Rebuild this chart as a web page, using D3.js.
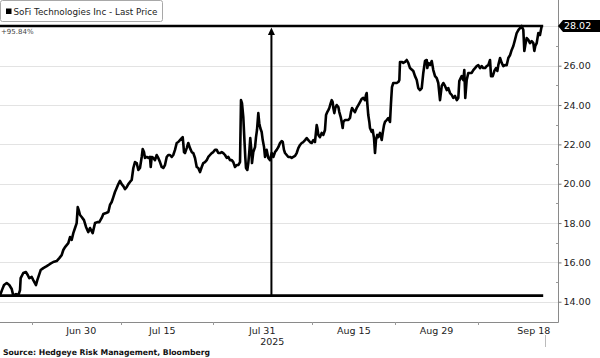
<!DOCTYPE html>
<html>
<head>
<meta charset="utf-8">
<script src="https://cdn.jsdelivr.net/npm/d3@7"></script>
<style>
  html, body { margin: 0; padding: 0; background: #fff; }
  svg { display: block; }
</style>
</head>
<body>
<svg id="chart" width="600" height="358"></svg>
<script>
// ---------------- DATA ----------------
const seriesName = "SoFi Technologies Inc - Last Price";
const sourceText = "Source: Hedgeye Risk Management, Bloomberg";
// time in trading days since the start of the window (mid-June 2025)
const tradingDay = [
  0,0.24,0.49,0.82,1.13,1.43,1.62,1.95,2.23,2.44,2.52,2.84,3.17,3.38,3.57,3.87,4.06,4.39,4.55,4.96,
  5.28,5.7,6.1,6.5,6.91,7.23,7.52,7.72,7.93,8.13,8.33,8.54,8.74,8.94,9.15,9.35,9.48,9.6,9.76,9.96,
  10.24,10.49,10.77,10.98,11.3,11.59,11.87,12.11,12.4,12.6,12.93,13.21,13.41,13.62,13.82,14.02,14.23,
  14.43,14.63,14.84,15.04,15.24,15.45,15.65,15.85,
  16.06,16.26,16.46,16.67,16.87,17.07,17.28,17.4,17.56,17.68,17.89,18.09,18.29,18.38,18.5,18.7,18.9,
  19.11,19.3,19.51,19.72,19.91,20.12,20.33,20.52,20.73,20.94,21.13,21.34,21.55,21.74,21.95,22.16,22.28,
  22.35,22.44,22.56,22.77,22.96,23.17,23.38,23.57,23.78,23.99,24.18,24.39,24.6,24.79,25.0,25.21,25.4,
  25.61,25.82,26.01,26.22,26.43,26.62,26.83,27.04,27.23,27.44,27.65,27.84,28.05,28.26,28.45,28.66,28.87,
  29.06,29.27,29.39,29.51,29.67,29.79,29.91,30.0,30.16,30.28,30.4,30.52,30.65,30.73,30.89,31.1,31.22,
  31.34,31.5,31.62,31.74,31.91,32.04,32.2,32.32,32.52,32.72,32.93,
  33.13,33.33,33.54,33.74,33.94,34.15,34.35,34.48,34.63,34.76,34.96,35.16,35.37,35.57,35.77,35.98,36.18,
  36.38,36.59,36.79,36.99,37.2,37.4,37.6,37.8,38.01,38.21,38.41,38.62,38.7,38.82,39.02,39.23,39.43,39.63,
  39.76,39.91,40.04,40.16,40.33,40.45,40.57,40.65,40.77,40.89,41.06,41.26,41.38,41.55,41.67,41.79,41.87,
  42.07,42.28,42.48,42.68,42.8,42.93,43.09,43.29,43.5,43.7,43.9,44.11,44.3,44.51,44.63,44.72,44.79,44.91,
  45.04,45.12,45.33,45.45,45.61,45.73,45.85,46.01,46.13,46.34,46.55,46.67,46.83,46.95,47.16,47.35,47.56,
  47.68,47.8,47.96,48.17,48.38,48.57,48.7,48.78,48.99,49.18,49.39,49.6,49.79,
  50.0,50.4,50.61,50.82,51.01,51.22,51.43,51.62,51.83,52.04,52.11,52.23,52.44,52.65,52.84,53.05,53.26,
  53.45,53.66,53.87,54.06,54.27,54.48,54.67,54.88,55.09,55.28,55.49,55.7,55.89,56.01,56.18,56.3,56.5,
  56.62,56.74,56.91,57.11,57.32,57.52,57.72,57.93,58.13,58.33,58.54,58.74,58.94,59.15,59.35,59.55,59.76,
  59.88,60.09,60.28,60.49,60.65,60.77,60.98,61.18,61.38,61.59,61.79,61.99,62.2,62.4,62.6,62.8,63.01,
  63.21,63.41,63.62,63.82,63.94,64.06,64.23,64.43,64.63,64.84,65.04,65.16,65.28,65.45,65.65,65.85,66.06
];
const price = [
  14.31,14.59,14.85,14.95,14.85,14.65,14.31,14.39,14.31,14.59,15.2,15.46,15.51,15.36,15.2,15.26,15.1,14.85,15.1,15.61,
  15.71,15.81,15.92,16.02,16.07,16.22,16.37,16.63,16.78,16.88,16.98,17.29,17.14,17.49,17.75,18.0,18.81,18.66,18.41,18.31,
  18.15,17.8,17.54,17.75,17.49,18.0,18.05,18.05,18.26,18.46,18.51,18.56,18.92,19.07,19.32,19.58,19.78,
  19.98,20.14,19.98,19.88,19.73,19.83,19.98,20.09,
  20.19,20.8,21.1,21.05,20.7,20.8,21.36,21.76,21.61,21.31,21.36,21.31,21.36,20.85,21.36,21.31,21.2,
  21.46,21.31,21.1,20.85,20.8,20.95,21.36,21.46,21.46,21.36,21.46,21.72,22.07,22.12,22.22,22.32,22.37,
  22.07,21.61,21.56,21.81,22.07,21.81,21.61,21.56,21.31,20.85,20.8,20.59,20.85,21.05,21.1,21.2,21.36,
  21.46,21.56,21.61,21.72,21.72,21.56,21.56,21.61,21.56,21.46,21.31,21.36,21.2,21.2,21.1,20.85,20.95,
  20.95,21.1,24.25,24.1,23.39,22.37,21.36,20.8,20.7,21.05,21.61,22.32,21.72,21.05,21.61,21.86,22.37,
  22.73,23.59,23.08,22.83,22.63,22.22,21.86,21.36,21.72,21.31,21.2,
  21.56,21.36,21.61,21.72,21.86,22.07,22.17,22.12,21.72,21.56,21.46,21.36,21.36,21.31,21.36,21.41,21.56,
  21.81,21.97,22.07,22.12,22.22,22.32,22.22,22.12,22.07,22.22,22.12,22.98,22.83,22.48,22.37,22.58,22.48,22.73,
  23.49,23.64,23.74,23.85,24.1,24.25,24.15,23.85,23.59,23.85,24.0,23.9,23.64,23.39,23.14,22.83,23.14,
  23.24,23.24,23.24,23.34,23.64,23.85,23.75,23.64,23.85,24.0,24.15,24.31,24.36,24.25,24.51,24.61,24.1,23.49,
  23.14,22.83,22.63,22.73,22.32,21.56,22.22,22.48,22.37,22.58,22.22,22.58,22.98,23.14,23.24,23.34,23.14,
  24.1,24.91,25.12,25.12,25.12,25.17,25.27,26.19,26.19,26.14,26.19,26.29,26.14,
  25.88,25.73,25.47,25.27,24.86,24.76,24.86,25.63,26.24,26.29,25.88,26.14,26.04,26.24,25.78,25.47,25.37,
  25.12,24.25,24.97,25.12,24.97,24.76,24.86,24.61,24.51,24.36,24.46,24.25,24.36,25.22,25.37,25.47,25.27,
  25.78,24.36,25.27,25.63,25.63,25.63,25.78,25.88,25.98,26.03,25.88,25.98,25.88,25.88,25.98,26.03,26.29,
  25.47,25.47,25.73,25.88,25.73,26.03,26.39,26.14,25.98,26.03,26.03,26.39,26.54,26.8,27.0,27.31,27.66,
  27.81,27.91,28.02,27.81,26.75,27.05,27.41,27.31,27.15,27.25,27.15,26.75,27.0,27.15,27.66,27.56,28.02
];
const lastPrice = 28.02;
const lowPrice = 14.31;
const pctChangeLabel = "+95.84%";
const markerDay = 33.1;          // the vertical arrow (start of August)
const yTicks = [14, 16, 18, 20, 22, 24, 26];
const yMinorTicks = [15, 17, 19, 21, 23, 25, 27];
const xTickDays = [9.84, 19.72, 31.91, 43.09, 53.17, 65.04];
const xTickLabels = ["Jun 30", "Jul 15", "Jul 31", "Aug 15", "Aug 29", "Sep 18"];
const xMinorDays = [3.87, 14.8, 25.98, 38.01, 48.17, 58.29];
const yearLabel = "2025";
const yearDay = 33.2;

// ---------------- CHART ----------------
const svg = d3.select("#chart");
const plotRight = 558, plotBottom = 322;
const x = d3.scaleLinear().domain([0, 66.06]).range([0, 541.7]);
const y = d3.scaleLinear().domain([12.97, 29.34]).range([plotBottom, 0]);
const FONT = "'DejaVu Sans', Verdana, sans-serif";

svg.append("rect").attr("width", 600).attr("height", 358).attr("fill", "#fff");

// gridlines
svg.append("g").selectAll("line").data(yTicks.concat([28])).join("line")
  .attr("x1", 0).attr("x2", plotRight)
  .attr("y1", d => Math.round(y(d)) + 0.5).attr("y2", d => Math.round(y(d)) + 0.5)
  .attr("stroke", "#e3e3e3").attr("stroke-width", 1);

// axes lines
svg.append("line").attr("x1", 0).attr("x2", plotRight + 0.5)
  .attr("y1", plotBottom + 0.5).attr("y2", plotBottom + 0.5).attr("stroke", "#8a8a8a");
svg.append("line").attr("x1", plotRight + 0.5).attr("x2", plotRight + 0.5)
  .attr("y1", 0).attr("y2", plotBottom + 0.5).attr("stroke", "#8a8a8a");

// y axis (right)
const yAxis = d3.axisRight(y).tickValues(yTicks).tickFormat(d3.format(".2f")).tickSize(3).tickPadding(2);
const gy = svg.append("g").attr("transform", `translate(${plotRight + 0.5},0)`).call(yAxis);
gy.select(".domain").remove();
gy.selectAll(".tick line").attr("stroke", "#777");
gy.selectAll(".tick text").attr("font-family", FONT).attr("font-size", 9.5).attr("fill", "#222");
svg.append("g").selectAll("line").data(yMinorTicks).join("line")
  .attr("x1", plotRight - 2).attr("x2", plotRight + 0.5)
  .attr("y1", d => Math.round(y(d)) + 0.5).attr("y2", d => Math.round(y(d)) + 0.5)
  .attr("stroke", "#999");

// x axis
const xAxis = d3.axisBottom(x).tickValues(xTickDays).tickFormat((d, i) => xTickLabels[i]).tickSize(0).tickPadding(5);
const gx = svg.append("g").attr("transform", `translate(0,${plotBottom})`).call(xAxis);
gx.select(".domain").remove();
gx.selectAll(".tick text").attr("font-family", FONT).attr("font-size", 9.5).attr("fill", "#222");
svg.append("g").selectAll("line").data(xMinorDays).join("line")
  .attr("x1", d => Math.round(x(d)) + 0.5).attr("x2", d => Math.round(x(d)) + 0.5)
  .attr("y1", plotBottom).attr("y2", plotBottom + 3).attr("stroke", "#999");
svg.append("text").attr("x", x(yearDay)).attr("y", 344.5).attr("text-anchor", "middle")
  .attr("font-family", FONT).attr("font-size", 9.5).attr("fill", "#222").text(yearLabel);
svg.append("line").attr("x1", 545.5).attr("x2", 545.5).attr("y1", 335).attr("y2", 347)
  .attr("stroke", "#bbb");

// reference lines
const xEnd = x(tradingDay[tradingDay.length - 1]) + 1.5;
svg.append("line").attr("x1", 0).attr("x2", xEnd)
  .attr("y1", y(lastPrice)).attr("y2", y(lastPrice)).attr("stroke", "#000").attr("stroke-width", 2.6);
svg.append("line").attr("x1", 0).attr("x2", xEnd)
  .attr("y1", y(lowPrice)).attr("y2", y(lowPrice)).attr("stroke", "#000").attr("stroke-width", 2.6);
const mx = x(markerDay);
svg.append("line").attr("x1", mx).attr("x2", mx)
  .attr("y1", y(lowPrice)).attr("y2", y(lastPrice) + 6).attr("stroke", "#000").attr("stroke-width", 2);
svg.append("path")
  .attr("d", `M${mx},${y(lastPrice) + 1.5} L${mx - 3.5},${y(lastPrice) + 9} L${mx + 3.5},${y(lastPrice) + 9} Z`)
  .attr("fill", "#000");

// price line
const pts = tradingDay.map((t, i) => ({ t, p: price[i] }));
svg.append("path").datum(pts)
  .attr("d", d3.line().x(d => x(d.t)).y(d => y(d.p)))
  .attr("fill", "none").attr("stroke", "#000").attr("stroke-width", 2.6)
  .attr("stroke-linejoin", "round").attr("stroke-linecap", "butt");

// last price tag
const ly = y(lastPrice);
svg.append("path")
  .attr("d", `M${plotRight},${ly} L${plotRight + 5},${ly - 6} L600,${ly - 6} L600,${ly + 6} L${plotRight + 5},${ly + 6} Z`)
  .attr("fill", "#000");
svg.append("text").attr("x", 564).attr("y", ly + 3.5)
  .attr("font-family", FONT).attr("font-size", 9.5).attr("fill", "#fff").text(d3.format(".2f")(lastPrice));

// percent change label
svg.append("text").attr("x", 1).attr("y", 33.5)
  .attr("font-family", FONT).attr("font-size", 7).attr("fill", "#444").text(pctChangeLabel);

// legend
svg.append("rect").attr("x", 0.5).attr("y", 0.5).attr("width", 162).attr("height", 21).attr("rx", 2)
  .attr("fill", "#fff").attr("stroke", "#a8a8a8");
svg.append("rect").attr("x", 6).attr("y", 8.5).attr("width", 5.5).attr("height", 5.5).attr("fill", "#000");
svg.append("text").attr("x", 13.5).attr("y", 14.8)
  .attr("font-family", FONT).attr("font-size", 8.5).attr("fill", "#222")
  .attr("textLength", 144).attr("lengthAdjust", "spacingAndGlyphs").text(seriesName);

// source
svg.append("text").attr("x", 3).attr("y", 354.5)
  .attr("font-family", FONT).attr("font-size", 7.8).attr("font-weight", "bold").attr("fill", "#111")
  .attr("textLength", 207).attr("lengthAdjust", "spacingAndGlyphs").text(sourceText);
</script>
</body>
</html>
